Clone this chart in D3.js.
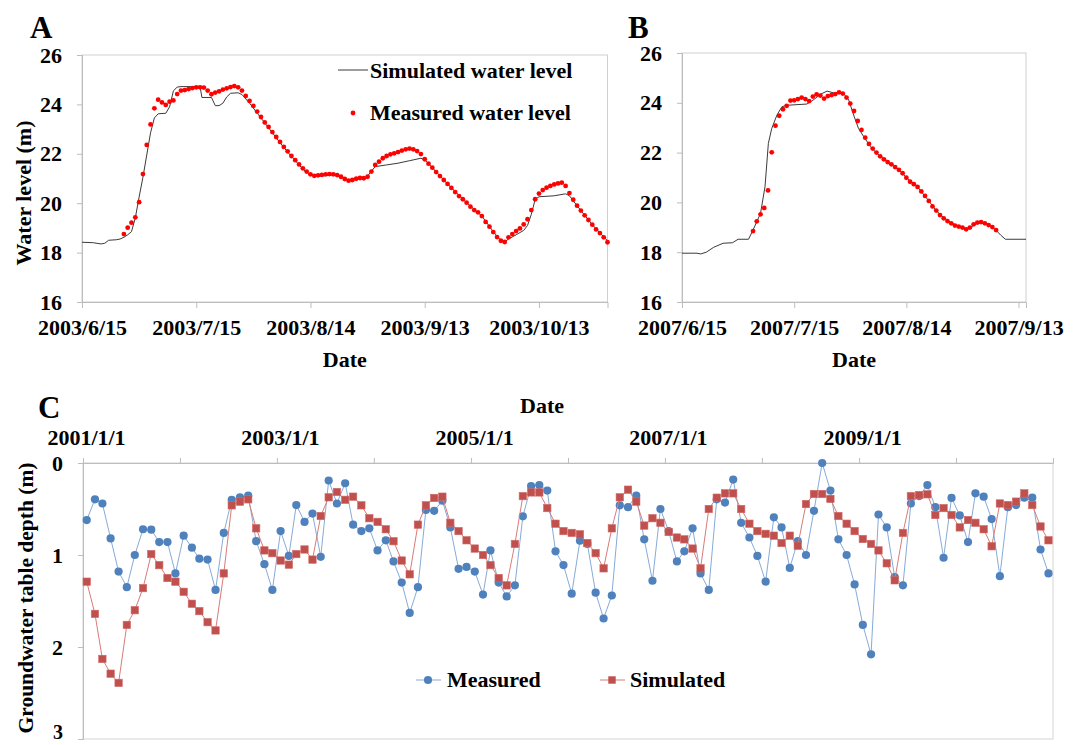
<!DOCTYPE html>
<html><head><meta charset="utf-8">
<script src="https://cdn.jsdelivr.net/npm/d3@7"></script>
<style>
body{margin:0;background:#fff}
text{font-family:"Liberation Serif","Times New Roman",serif;font-weight:bold;fill:#000}
</style></head>
<body>
<svg id="chart" width="1081" height="745"></svg>
<script>
// ---------- Panel A data (2003) ----------
const aStart = "2003-06-15";
const aEndDay = 138;
const aTickDays = [0, 30, 60, 90, 120];
const aSimDay = [0,3,5,6,7,9,10,11,12,13,14,15,16,17,18,19,20,22,23,24,25,26,31,31.5,34,35,36,37,38,39,41,42,44,46,48,50,52,54,56,58,60,62,66,68,70,72,74,75,76,77,80,83,86,89,90,92,95,100,105,108,110,111,112,114,116,117,118,119,120,124,127,128,130,134,138];
const aSimVal = [18.42,18.40,18.35,18.38,18.50,18.52,18.55,18.62,18.72,18.85,19.40,20.25,21.05,21.95,22.85,23.45,23.62,23.64,23.90,24.55,24.70,24.72,24.72,24.28,24.28,23.95,23.95,24.05,24.30,24.45,24.47,24.40,24.05,23.65,23.25,22.85,22.45,22.07,21.72,21.38,21.13,21.08,21.15,21.05,20.92,20.97,21.00,21.10,21.30,21.48,21.55,21.62,21.72,21.82,21.76,21.44,20.94,20.16,19.48,18.85,18.48,18.43,18.55,18.72,18.90,19.10,19.55,20.15,20.26,20.30,20.38,20.30,19.90,19.13,18.48];
const aMeasFirstDay = 11;
const aMeas = [18.75,19.01,19.21,19.43,20.04,21.18,22.36,23.19,23.84,24.19,
24.08,23.98,24.11,24.16,24.42,24.56,24.58,24.62,24.66,24.69,
24.69,24.68,24.56,24.41,24.48,24.53,24.60,24.65,24.70,24.74,
24.69,24.56,24.34,24.14,23.94,23.71,23.49,23.27,23.09,22.88,
22.68,22.48,22.28,22.10,21.91,21.74,21.57,21.41,21.28,21.17,
21.11,21.13,21.15,21.17,21.18,21.17,21.14,21.07,20.98,20.91,
20.94,20.99,21.02,21.01,21.07,21.28,21.55,21.68,21.82,21.91,
21.98,22.02,22.07,22.13,22.18,22.21,22.18,22.11,21.99,21.78,
21.60,21.44,21.26,21.10,20.94,20.78,20.62,20.45,20.29,20.16,
20.02,19.86,19.72,19.63,19.48,19.24,19.05,18.83,18.63,18.48,
18.43,18.62,18.75,18.87,18.98,19.14,19.35,19.72,20.16,20.39,
20.53,20.63,20.70,20.76,20.80,20.83,20.70,20.41,20.14,19.90,
19.70,19.51,19.32,19.13,18.94,18.79,18.62,18.42];

// ---------- Panel B data (2007) ----------
const bStart = "2007-06-15";
const bEndDay = 92;
const bTickDays = [0, 30, 60, 90];
const bSimDay = [0,4,5,6.5,8.5,11,13.5,15,17.8,19,21,22.2,23.1,24,25.4,26.7,28,33.4,35,37,38.8,40.5,43.2,44.6,45.9,47.2,48.6,50.4,52.1,55,58,60,63,66,68,70,72,74,76,77,79,81,83,84,85.2,86.5,92];
const bSimVal = [17.96,17.96,17.93,18.00,18.20,18.36,18.38,18.52,18.52,18.89,19.56,20.63,22.37,22.97,23.51,23.84,23.90,23.95,24.10,24.34,24.47,24.40,24.38,24.11,23.51,22.97,22.64,22.24,21.97,21.62,21.31,21.00,20.62,20.06,19.67,19.38,19.18,19.04,18.95,18.98,19.17,19.15,19.00,18.88,18.69,18.52,18.52];
const bMeasFirstDay = 19;
const bMeas = [18.85,19.24,19.52,19.78,20.48,22.01,23.08,23.48,23.74,23.88,
24.09,24.10,24.15,24.21,24.15,24.07,24.25,24.34,24.29,24.17,
24.27,24.31,24.35,24.42,24.37,24.21,23.97,23.67,23.27,22.91,
22.60,22.35,22.16,22.00,21.85,21.73,21.62,21.53,21.42,21.31,
21.17,20.99,20.83,20.73,20.62,20.44,20.26,20.06,19.84,19.67,
19.49,19.36,19.25,19.16,19.07,19.03,18.99,18.92,18.99,19.12,
19.19,19.21,19.16,19.09,19.01,18.89];

const yTicksAB = [16, 18, 20, 22, 24, 26];

// ---------- Panel C data (monthly 2001-2010) ----------
const cFirstMonth = [2001, 0];
const cYears = [2001,2002,2003,2004,2005,2006,2007,2008,2009,2010,2011];
const cLabelYears = [2001, 2003, 2005, 2007, 2009];
const yTicksC = [0, 1, 2, 3];
const cMeasured = [
0.62,0.395,0.44,0.82,1.18,1.35,1.00,0.72,0.725,0.86,0.86,1.20,
0.79,0.92,1.04,1.05,1.38,0.76,0.40,0.373,0.355,0.85,1.10,1.38,
0.74,1.01,0.457,0.64,0.55,1.02,0.19,0.44,0.22,0.67,0.74,0.71,
0.95,0.84,1.07,1.30,1.63,1.35,0.51,0.52,0.41,0.70,1.15,1.13,
1.18,1.43,0.95,1.30,1.45,1.33,0.58,0.25,0.24,0.30,0.96,1.11,
1.42,0.845,0.88,1.41,1.69,1.44,0.46,0.48,0.355,0.83,1.28,0.50,
0.74,1.07,0.96,0.71,1.20,1.38,0.395,0.43,0.18,0.65,0.81,1.01,
1.29,0.59,0.70,1.14,0.85,1.00,0.52,0.00,0.30,0.83,1.00,1.32,
1.76,2.08,0.56,0.70,1.24,1.33,0.44,0.36,0.24,0.48,1.03,0.38,
0.57,0.86,0.33,0.366,0.61,1.23,0.48,0.457,0.377,0.377,0.94,1.20];
const cSimulated = [
1.29,1.64,2.13,2.29,2.39,1.76,1.60,1.36,0.99,1.11,1.25,1.29,
1.40,1.53,1.61,1.73,1.82,1.20,0.46,0.42,0.395,0.71,0.95,0.98,
1.06,1.105,0.99,0.94,1.05,0.576,0.373,0.315,0.40,0.366,0.46,0.60,
0.64,0.72,0.85,1.06,1.21,0.67,0.46,0.38,0.366,0.65,0.74,0.84,
0.93,1.00,1.11,1.25,1.33,0.88,0.36,0.32,0.32,0.49,0.66,0.74,
0.76,0.775,0.87,0.98,1.145,0.71,0.373,0.29,0.42,0.68,0.60,0.65,
0.75,0.81,0.83,0.93,1.145,0.50,0.377,0.33,0.33,0.50,0.66,0.74,
0.77,0.79,0.87,0.79,0.90,0.446,0.337,0.337,0.39,0.576,0.66,0.74,
0.826,0.88,0.95,1.09,1.275,0.76,0.36,0.348,0.34,0.565,0.49,0.565,
0.70,0.62,0.65,0.72,0.905,0.44,0.457,0.42,0.33,0.457,0.69,0.84];

// ---------- drawing ----------
const svg = d3.select("#chart");
const parse = d3.timeParse("%Y-%m-%d");
const fmtTick = d => `${d.getFullYear()}/${d.getMonth()+1}/${d.getDate()}`;
const dayAt = (t0, d) => new Date(+t0 + d * 864e5);
const AXIS = "#bdbdbd";

function styleAxis(g, size) {
  g.select(".domain").attr("stroke", AXIS);
  g.selectAll(".tick line").attr("stroke", AXIS);
  g.selectAll(".tick text").attr("font-size", size).attr("fill", "#000")
    .attr("font-family", '"Liberation Serif","Times New Roman",serif').attr("font-weight", "bold");
}

function panelAB(o) {
  const t0 = parse(o.start);
  const x = d3.scaleTime().domain([t0, dayAt(t0, o.endDay)]).range([o.l, o.r]);
  const y = d3.scaleLinear().domain([16, 26]).range([o.b, o.t]);
  const g = svg.append("g");
  g.append("rect").attr("x", o.l).attr("y", o.t).attr("width", o.r - o.l).attr("height", o.b - o.t)
    .attr("fill", "none").attr("stroke", "#cfcfcf");
  const ya = g.append("g").attr("transform", `translate(${o.l},0)`)
    .call(d3.axisLeft(y).tickValues(yTicksAB).tickSize(5).tickPadding(15).tickFormat(d3.format("d")));
  styleAxis(ya, 22);
  const xa = g.append("g").attr("transform", `translate(0,${o.b})`)
    .call(d3.axisBottom(x).tickValues(o.ticks.map(d => d3.timeDay.offset(t0, d))).tickFormat(fmtTick).tickSize(6).tickPadding(11));
  styleAxis(xa, 22);

  const sim = o.simDay.map((d, i) => ({ t: dayAt(t0, d), v: o.simVal[i] }));
  g.append("path").datum(sim).attr("fill", "none").attr("stroke", "#3a3a3a").attr("stroke-width", 1)
    .attr("d", d3.line().x(d => x(d.t)).y(d => y(d.v)));
  const meas = o.meas.map((v, i) => ({ t: dayAt(t0, o.measFirst + i), v }));
  g.selectAll("circle.m").data(meas).join("circle").attr("class", "m")
    .attr("cx", d => x(d.t)).attr("cy", d => y(d.v)).attr("r", 2.4).attr("fill", "#ff0000");

  g.append("text").attr("x", (o.l + o.r) / 2).attr("y", 367).attr("text-anchor", "middle")
    .attr("font-size", 22).text("Date");
  g.append("text").attr("x", o.letterX).attr("y", 38).attr("font-size", 31).text(o.letter);
  return { x, y, g };
}

panelAB({ start: aStart, endDay: aEndDay, ticks: aTickDays, l: 82, r: 607.5, t: 55, b: 302,
  simDay: aSimDay, simVal: aSimVal, meas: aMeas, measFirst: aMeasFirstDay, letter: "A", letterX: 30 });
panelAB({ start: bStart, endDay: bEndDay, ticks: bTickDays, l: 682, r: 1026, t: 53, b: 302,
  simDay: bSimDay, simVal: bSimVal, meas: bMeas, measFirst: bMeasFirstDay, letter: "B", letterX: 628 });

// y label A
svg.append("text").attr("transform", "translate(31,193) rotate(-90)").attr("text-anchor", "middle")
  .attr("font-size", 22).text("Water level (m)");

// legend A
svg.append("line").attr("x1", 338).attr("x2", 368).attr("y1", 70).attr("y2", 70).attr("stroke", "#3a3a3a");
svg.append("text").attr("x", 370).attr("y", 78).attr("font-size", 22).text("Simulated water level");
svg.append("circle").attr("cx", 353).attr("cy", 113).attr("r", 2.4).attr("fill", "#ff0000");
svg.append("text").attr("x", 370).attr("y", 120).attr("font-size", 22).text("Measured water level");

// ---------- Panel C ----------
const cl = 83, cr = 1053, ct = 463, cb = 739;
const xc = d3.scaleTime().domain([new Date(cYears[0], 0, 1), new Date(cYears[cYears.length - 1], 0, 1)]).range([cl, cr]);
const yc = d3.scaleLinear().domain([0, 3]).range([ct, cb]);
const gc = svg.append("g");
gc.append("rect").attr("x", cl).attr("y", ct).attr("width", cr - cl).attr("height", cb - ct)
  .attr("fill", "none").attr("stroke", "#d4d4d4");
const yca = gc.append("g").attr("transform", `translate(${cl},0)`)
  .call(d3.axisLeft(yc).tickValues(yTicksC).tickSize(5).tickPadding(15).tickFormat(d3.format("d")));
styleAxis(yca, 22);
// keep the bottom tick label inside the window
yca.selectAll(".tick text").filter(d => d === 3).attr("dy", "-0.02em").attr("font-size", 20);
const xca = gc.append("g").attr("transform", `translate(0,${ct})`)
  .call(d3.axisTop(xc).tickValues(cYears.map(yr => new Date(yr, 0, 1)))
    .tickFormat(d => cLabelYears.includes(d.getFullYear()) ? fmtTick(d) : "").tickSize(5).tickPadding(13));
styleAxis(xca, 22);
xca.selectAll(".tick text").attr("dx", 3);

const monthDate = i => new Date(cFirstMonth[0], cFirstMonth[1] + i, 15);
const mData = cMeasured.map((v, i) => ({ t: monthDate(i), v }));
const sData = cSimulated.map((v, i) => ({ t: monthDate(i), v }));
const lineC = d3.line().x(d => xc(d.t)).y(d => yc(d.v));
const BLUE = "#4f81bd", BLUEL = "#86abd9", RED = "#c0504d", REDL = "#d97b79";
gc.append("path").datum(mData).attr("fill", "none").attr("stroke", BLUEL).attr("stroke-width", 1).attr("d", lineC);
gc.selectAll("circle.cm").data(mData).join("circle").attr("class", "cm")
  .attr("cx", d => xc(d.t)).attr("cy", d => yc(d.v)).attr("r", 4.1).attr("fill", BLUE);
gc.append("path").datum(sData).attr("fill", "none").attr("stroke", REDL).attr("stroke-width", 1).attr("d", lineC);
const sq = 7.4;
gc.selectAll("rect.cs").data(sData).join("rect").attr("class", "cs")
  .attr("x", d => xc(d.t) - sq / 2).attr("y", d => yc(d.v) - sq / 2).attr("width", sq).attr("height", sq)
  .attr("fill", RED).attr("stroke", "#d36a67").attr("stroke-width", 0.6);

svg.append("text").attr("x", 542).attr("y", 413).attr("text-anchor", "middle").attr("font-size", 22).text("Date");
svg.append("text").attr("x", 38).attr("y", 418).attr("font-size", 31).text("C");
svg.append("text").attr("transform", "translate(33,598) rotate(-90)").attr("text-anchor", "middle")
  .attr("font-size", 21.5).text("Groundwater table depth (m)");

// legend C
svg.append("line").attr("x1", 416).attr("x2", 441).attr("y1", 680).attr("y2", 680).attr("stroke", BLUEL);
svg.append("circle").attr("cx", 428).attr("cy", 680).attr("r", 4.1).attr("fill", BLUE);
svg.append("text").attr("x", 447).attr("y", 687).attr("font-size", 22).text("Measured");
svg.append("line").attr("x1", 600).attr("x2", 625).attr("y1", 680).attr("y2", 680).attr("stroke", REDL);
svg.append("rect").attr("x", 612 - sq / 2).attr("y", 680 - sq / 2).attr("width", sq).attr("height", sq).attr("fill", RED);
svg.append("text").attr("x", 630).attr("y", 687).attr("font-size", 22).text("Simulated");
</script>
</body></html>
